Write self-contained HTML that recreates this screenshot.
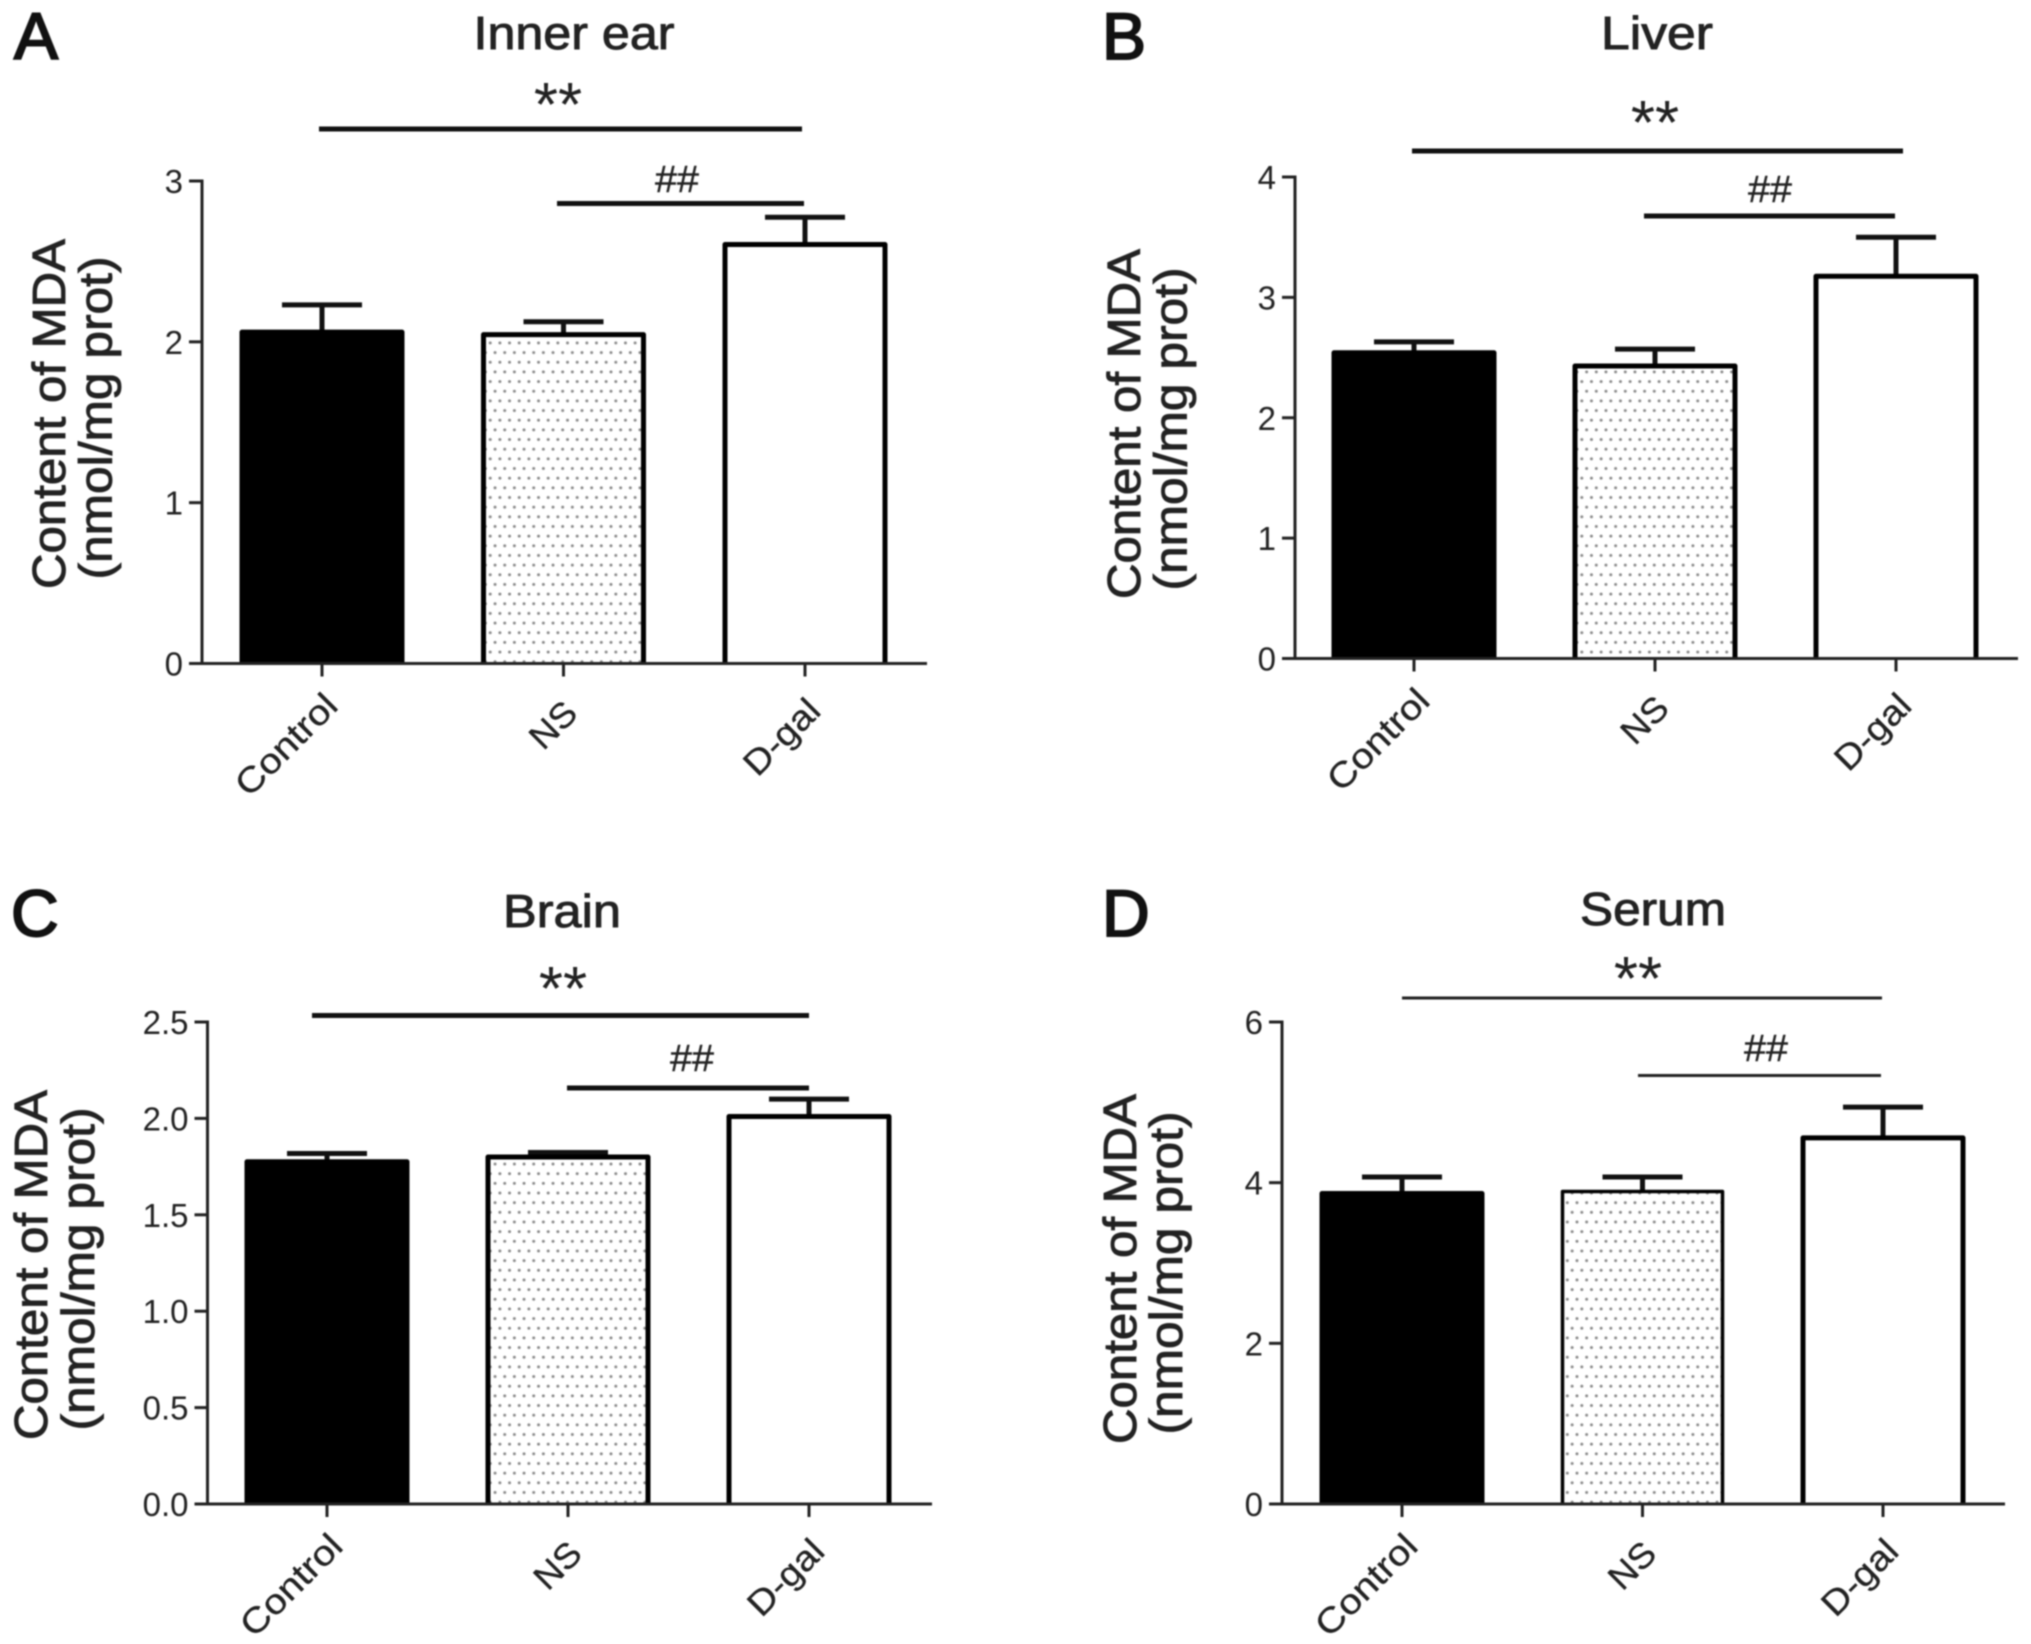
<!DOCTYPE html>
<html lang="en">
<head>
<meta charset="utf-8">
<title>Content of MDA in inner ear, liver, brain and serum</title>
<style>
html,body{margin:0;padding:0;background:#fff;width:2031px;height:1644px;overflow:hidden}
svg{display:block;filter:blur(0.8px)}
text{font-family:"Liberation Sans",sans-serif;fill:#222}
.letter{font-size:66px;fill:#111;stroke:#111;stroke-width:2px}
.title{font-size:46px;stroke:#222;stroke-width:.9px}
.ylab{font-size:46px;text-anchor:middle;stroke:#222;stroke-width:.9px}
.sig{font-size:62px;text-anchor:middle}
.hash{font-size:38px;text-anchor:middle;stroke:#222;stroke-width:.4px}
.ytick{font-size:33px;text-anchor:end}
.xtick{font-size:35px;text-anchor:middle;stroke:#222;stroke-width:.3px}
.anno{stroke:#111;stroke-width:5}
.anno.thin{stroke:#222;stroke-width:3}
</style>
</head>
<body>
<svg id="figure" xmlns="http://www.w3.org/2000/svg" width="2031" height="1644" viewBox="0 0 2031 1644">
<defs>
<pattern id="dots" patternUnits="userSpaceOnUse" width="9.66" height="19.32">
<circle cx="2.4" cy="4.8" r="1.5" fill="#8a8a8a"/>
<circle cx="7.23" cy="14.46" r="1.5" fill="#8a8a8a"/>
</pattern>
</defs>

<g id="panel-a">
<text class="letter" x="14" y="59">A</text>
<text class="title" x="574" y="49" text-anchor="middle" textLength="201" lengthAdjust="spacingAndGlyphs">Inner ear</text>
<text class="ylab" transform="translate(65,414) rotate(-90)" textLength="350" lengthAdjust="spacingAndGlyphs">Content of MDA</text>
<text class="ylab" transform="translate(111.5,418) rotate(-90)" textLength="323" lengthAdjust="spacingAndGlyphs">(nmol/mg prot)</text>
<line class="anno" x1="319" x2="802" y1="129" y2="129"/>
<text class="sig" x="558" y="126">**</text>
<line class="anno" x1="557" x2="804" y1="203.5" y2="203.5"/>
<text class="hash" x="677" y="192" textLength="44" lengthAdjust="spacingAndGlyphs">##</text>
</g>

<g id="panel-b">
<text class="letter" x="1102" y="59">B</text>
<text class="title" x="1657" y="49" text-anchor="middle" textLength="112" lengthAdjust="spacingAndGlyphs">Liver</text>
<text class="ylab" transform="translate(1140,424) rotate(-90)" textLength="350" lengthAdjust="spacingAndGlyphs">Content of MDA</text>
<text class="ylab" transform="translate(1186.5,429) rotate(-90)" textLength="323" lengthAdjust="spacingAndGlyphs">(nmol/mg prot)</text>
<line class="anno" x1="1412" x2="1903" y1="151" y2="151"/>
<text class="sig" x="1655" y="144">**</text>
<line class="anno" x1="1644" x2="1895" y1="216" y2="216"/>
<text class="hash" x="1770" y="202" textLength="44" lengthAdjust="spacingAndGlyphs">##</text>
</g>

<g id="panel-c">
<text class="letter" x="11" y="936">C</text>
<text class="title" x="562" y="927" text-anchor="middle" textLength="118" lengthAdjust="spacingAndGlyphs">Brain</text>
<text class="ylab" transform="translate(47,1265) rotate(-90)" textLength="350" lengthAdjust="spacingAndGlyphs">Content of MDA</text>
<text class="ylab" transform="translate(94,1269) rotate(-90)" textLength="323" lengthAdjust="spacingAndGlyphs">(nmol/mg prot)</text>
<line class="anno" x1="312" x2="809" y1="1015.5" y2="1015.5"/>
<text class="sig" x="563" y="1010">**</text>
<line class="anno" x1="567" x2="809" y1="1088" y2="1088"/>
<text class="hash" x="692" y="1071" textLength="44" lengthAdjust="spacingAndGlyphs">##</text>
</g>

<g id="panel-d">
<text class="letter" x="1102" y="936">D</text>
<text class="title" x="1653" y="925" text-anchor="middle" textLength="146" lengthAdjust="spacingAndGlyphs">Serum</text>
<text class="ylab" transform="translate(1136,1269) rotate(-90)" textLength="350" lengthAdjust="spacingAndGlyphs">Content of MDA</text>
<text class="ylab" transform="translate(1182,1273) rotate(-90)" textLength="323" lengthAdjust="spacingAndGlyphs">(nmol/mg prot)</text>
<line class="anno thin" x1="1402" x2="1882" y1="998" y2="998"/>
<text class="sig" x="1638" y="1000">**</text>
<line class="anno thin" x1="1638" x2="1881" y1="1075.5" y2="1075.5"/>
<text class="hash" x="1766" y="1061" textLength="44" lengthAdjust="spacingAndGlyphs">##</text>
</g>
</svg>

<script>
// Chart data
const categories = ['Control', 'NS', 'D-gal'];

const innerEarMeans = [2.06, 2.045, 2.605];
const innerEarUpper = [2.23, 2.125, 2.775];
const innerEarTicks = ['0', '1', '2', '3'];

const liverMeans = [2.54, 2.43, 3.175];
const liverUpper = [2.63, 2.57, 3.50];
const liverTicks = ['0', '1', '2', '3', '4'];

const brainMeans = [1.775, 1.80, 2.01];
const brainUpper = [1.818, 1.823, 2.10];
const brainTicks = ['0.0', '0.5', '1.0', '1.5', '2.0', '2.5'];

const serumMeans = [3.865, 3.89, 4.557];
const serumUpper = [4.07, 4.07, 4.94];
const serumTicks = ['0', '2', '4', '6'];

const SVG_NS = 'http://www.w3.org/2000/svg';

function make(parent, tag, attrs, text) {
  const node = document.createElementNS(SVG_NS, tag);
  for (const key in attrs) node.setAttribute(key, attrs[key]);
  if (text !== undefined) node.textContent = text;
  parent.appendChild(node);
  return node;
}

function drawPanel(p) {
  const g = document.getElementById(p.id);
  const ink = '#222';
  const maxValue = parseFloat(p.ticks[p.ticks.length - 1]);
  const yScale = v => p.zeroY - (v / maxValue) * (p.zeroY - p.topY);
  const xScale = i => p.firstX + i * p.stepX;
  const barWidth = 160;
  const capWidth = 80;

  // error bars sit behind the bars
  p.means.forEach((mean, i) => {
    const cx = xScale(i);
    const stem = make(g, 'line', {x1: cx, x2: cx, y1: yScale(mean), y2: yScale(p.upper[i]), stroke: '#111', 'stroke-width': 5});
    
    
    const cap = make(g, 'line', {x1: cx - capWidth / 2, x2: cx + capWidth / 2, y1: yScale(p.upper[i]), y2: yScale(p.upper[i]), stroke: '#111', 'stroke-width': 5});
    
    
  });

  const fills = ['#000', 'url(#dots)', '#fff'];
  p.means.forEach((mean, i) => {
    const cx = xScale(i);
    const top = yScale(mean);
    const left = cx - barWidth / 2;
    const right = cx + barWidth / 2;
    // outline is open at the bottom: the x axis closes each bar
    const bar = make(g, 'path', {
      d: 'M' + left + ' ' + p.zeroY + 'V' + top + 'H' + right + 'V' + p.zeroY,
      fill: fills[i], stroke: '#000', 'stroke-linejoin': 'round',
      'stroke-width': (p.thinDots && i === 1) ? 3.5 : 5
    });
    
    
  });

  const yAxis = make(g, 'line', {x1: p.axisX, x2: p.axisX, y1: p.topY - 1.5, y2: p.zeroY, stroke: ink, 'stroke-width': 3});
  
  
  const xAxis = make(g, 'line', {x1: p.axisX - 13, x2: p.rightX, y1: p.zeroY, y2: p.zeroY, stroke: ink, 'stroke-width': 3});
  
  

  p.ticks.forEach(label => {
    const y = yScale(parseFloat(label));
    const tick = make(g, 'line', {x1: p.axisX - 13, x2: p.axisX, y1: y, y2: y, stroke: ink, 'stroke-width': 3});
    
    
    const text = make(g, 'text', {class: 'ytick', x: p.axisX - 19, y: y + 12}, label);
    
    
  });

  const labelDx = [-36, -10.6, -23.5];
  const labelDy = [81, 61.4, 73.4];
  const labelLen = [128, 51, 92];
  categories.forEach((name, i) => {
    const cx = xScale(i);
    const tick = make(g, 'line', {x1: cx, x2: cx, y1: p.zeroY, y2: p.zeroY + 13, stroke: ink, 'stroke-width': 3});
    
    
    const text = make(g, 'text', {
      class: 'xtick', textLength: labelLen[i], lengthAdjust: 'spacingAndGlyphs',
      transform: 'translate(' + (cx + labelDx[i]) + ',' + (p.zeroY + labelDy[i]) + ') rotate(-45) translate(0,12)'
    }, name);
    
    
  });
}

drawPanel({id: 'panel-a', means: innerEarMeans, upper: innerEarUpper, ticks: innerEarTicks,
  axisX: 202, rightX: 927, zeroY: 663.5, topY: 181, firstX: 322, stepX: 241.5});
drawPanel({id: 'panel-b', means: liverMeans, upper: liverUpper, ticks: liverTicks,
  axisX: 1295, rightX: 2018, zeroY: 658.5, topY: 177, firstX: 1414, stepX: 241});
drawPanel({id: 'panel-c', means: brainMeans, upper: brainUpper, ticks: brainTicks,
  axisX: 207.5, rightX: 932, zeroY: 1504, topY: 1022, firstX: 327, stepX: 241});
drawPanel({id: 'panel-d', means: serumMeans, upper: serumUpper, ticks: serumTicks, thinDots: true,
  axisX: 1282, rightX: 2005, zeroY: 1504, topY: 1022, firstX: 1402, stepX: 240.5});
</script>
</body>
</html>
